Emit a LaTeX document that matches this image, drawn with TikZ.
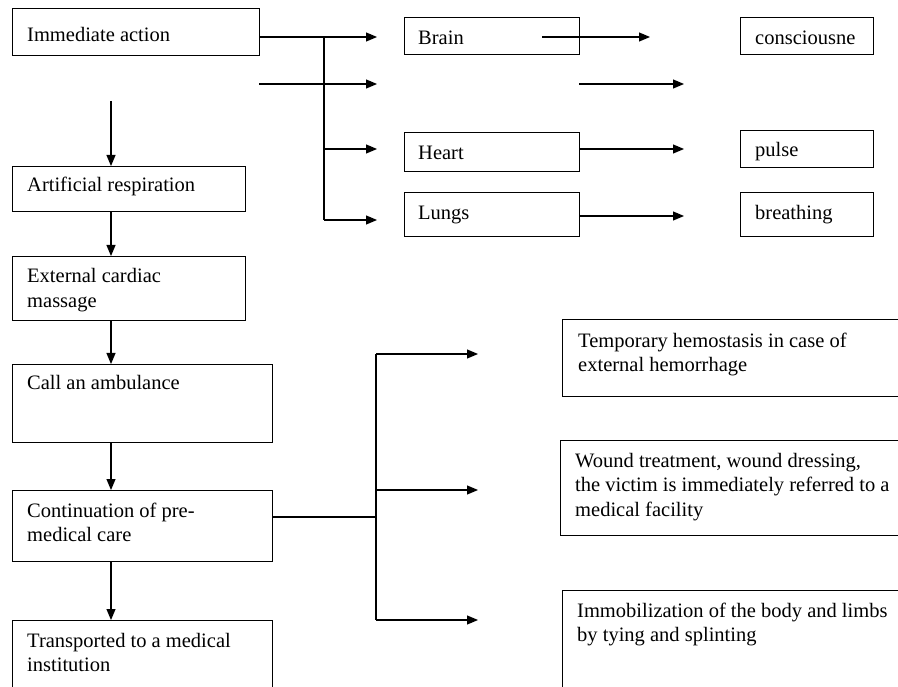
\documentclass[tikz,border=0pt]{standalone}
\usepackage{fontspec}
\setmainfont{Liberation Serif}
\usetikzlibrary{arrows.meta}
\begin{document}
\begin{tikzpicture}[x=1pt,y=-1pt,
  box/.style={draw, line width=1.3pt, inner sep=0pt, anchor=north west},
  txt/.style={anchor=base west, inner sep=0pt, align=left, font=\fontsize{20.5}{24.5}\selectfont},
  link/.style={line width=1.2pt},
  arr/.style={line width=1.2pt, -{Triangle[length=11pt,width=9pt]}}]
\useasboundingbox (0,0) rectangle (898,687);
\fill[white] (0,0) rectangle (898,687);
\clip (0,0) rectangle (898,687);

% left column
\node[box, minimum width=247, minimum height=47] (ia) at (12,8) {};
\node[txt] (iat) at ([shift={(15,34)}]ia.north west) {Immediate action};
\node[box, minimum width=233, minimum height=45] (ar) at (12,166) {};
\node[txt] (art) at ([shift={(15,26)}]ar.north west) {Artificial respiration};
\node[box, minimum width=233, minimum height=64] (ecm) at (12,256) {};
\node[txt] (ecmt) at ([shift={(15,51.5)}]ecm.north west) {External cardiac\\massage};
\node[box, minimum width=260, minimum height=78] (cab) at (12,364) {};
\node[txt] (cabt) at ([shift={(15,26)}]cab.north west) {Call an ambulance};
\node[box, minimum width=260, minimum height=71] (cont) at (12,490) {};
\node[txt] (contt) at ([shift={(15,51.5)}]cont.north west) {Continuation of pre-\\medical care};
\node[box, minimum width=260, minimum height=90] (tr) at (12,620) {};
\node[txt] (trt) at ([shift={(15,51.5)}]tr.north west) {Transported to a medical\\institution};

% organs
\node[box, minimum width=175, minimum height=37] (brain) at (404,17) {};
\node[txt] (braint) at ([shift={(14,28)}]brain.north west) {Brain};
\node[box, minimum width=175, minimum height=39] (heart) at (404,132) {};
\node[txt] (heartt) at ([shift={(14,28)}]heart.north west) {Heart};
\node[box, minimum width=175, minimum height=44] (lungs) at (404,192) {};
\node[txt] (lungst) at ([shift={(14,28)}]lungs.north west) {Lungs};

% signs
\node[box, minimum width=133, minimum height=37] (cons) at (740,17) {};
\node[txt] (const) at ([shift={(15,28)}]cons.north west) {consciousne};
\node[box, minimum width=133, minimum height=37] (pulse) at (740,130) {};
\node[txt] (pulset) at ([shift={(15,27)}]pulse.north west) {pulse};
\node[box, minimum width=133, minimum height=44] (breath) at (740,192) {};
\node[txt] (breatht) at ([shift={(15,28)}]breath.north west) {breathing};

% care boxes
\node[box, minimum width=400, minimum height=77] (temp) at (562,319) {};
\node[txt] (tempt) at ([shift={(16,52.5)}]temp.north west) {Temporary hemostasis in case of\\external hemorrhage};
\node[box, minimum width=400, minimum height=95] (wound) at (560,440) {};
\node[txt] (woundt) at ([shift={(15,76)}]wound.north west) {Wound treatment, wound dressing,\\the victim is immediately referred to a\\medical facility};
\node[box, minimum width=400, minimum height=120] (immob) at (562,590) {};
\node[txt] (immobt) at ([shift={(15,51.5)}]immob.north west) {Immobilization of the body and limbs\\by tying and splinting};

% coordinates
\coordinate (ja) at (324,37);
\coordinate (ea) at (377,37);
\coordinate (jh) at (324,149);
\coordinate (eh) at (377,149);
\coordinate (jl) at (324,220);
\coordinate (el) at (377,220);
\coordinate (s0) at (259,84);
\coordinate (s1) at (377,84);
\coordinate (s2) at (579,84);
\coordinate (s3) at (684,84);
\coordinate (bs) at (542,37);
\coordinate (be) at (650,37);
\coordinate (he) at (684,149);
\coordinate (le) at (684,216);
\coordinate (v0) at (111,101);
\coordinate (cj) at (376,517);
\coordinate (ct) at (376,354);
\coordinate (cm) at (376,490);
\coordinate (cb) at (376,620);
\coordinate (c1) at (478,354);
\coordinate (c2) at (478,490);
\coordinate (c3) at (478,620);

% top connectors
\draw[arr] (ia.east |- ja) -- (ea);
\draw[link] (ja) -- (jl);
\draw[arr] (jh) -- (eh);
\draw[arr] (jl) -- (el);
\draw[arr] (s0) -- (s1);
\draw[arr] (s2) -- (s3);
\draw[arr] (bs) -- (be);
\draw[arr] (heart.east |- jh) -- (he);
\draw[arr] (lungs.east |- le) -- (le);

% vertical chain
\draw[arr] (v0) -- (ar.north -| v0);
\draw[arr] (ar.south -| v0) -- (ecm.north -| v0);
\draw[arr] (ecm.south -| v0) -- (cab.north -| v0);
\draw[arr] (cab.south -| v0) -- (cont.north -| v0);
\draw[arr] (cont.south -| v0) -- (tr.north -| v0);

% care branch
\draw[link] (cont.east |- cj) -- (cj);
\draw[link] (ct) -- (cb);
\draw[arr] (ct) -- (c1);
\draw[arr] (cm) -- (c2);
\draw[arr] (cb) -- (c3);
\end{tikzpicture}
\end{document}
